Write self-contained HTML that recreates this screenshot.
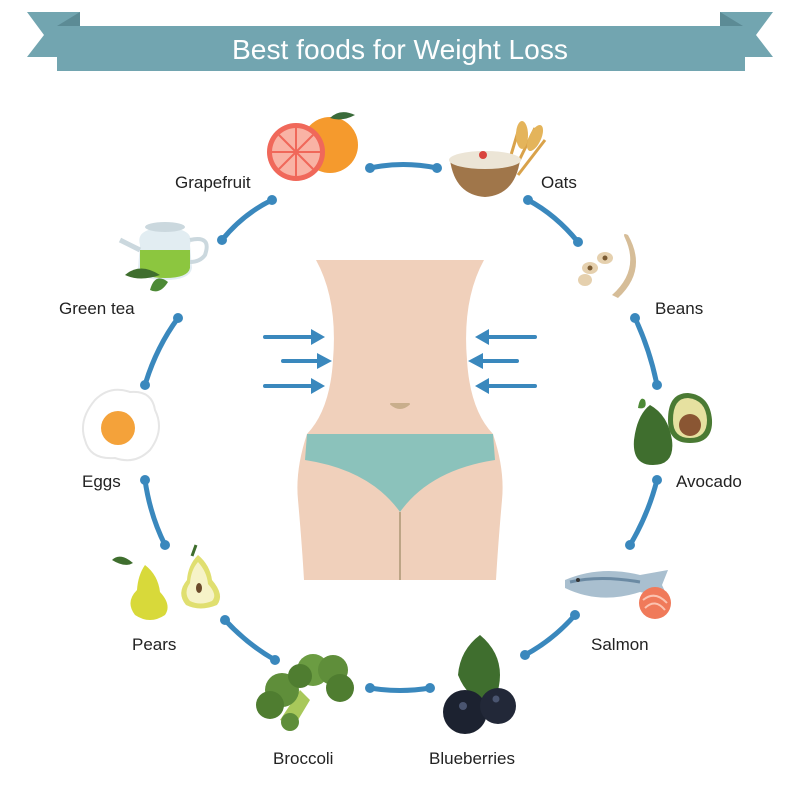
<!DOCTYPE html>
<html><head><meta charset="utf-8"><style>
html,body{margin:0;padding:0;background:#fff;}
svg{display:block}
text{font-family:"Liberation Sans",sans-serif;}
</style></head><body>
<svg width="800" height="800" viewBox="0 0 800 800" xmlns="http://www.w3.org/2000/svg">
<!-- banner -->
<polygon points="27,12 80,12 80,57 27,57 44,35" fill="#72a5b0"/>
<polygon points="773,12 720,12 720,57 773,57 756,35" fill="#72a5b0"/>
<polygon points="57,26 80,12 80,26" fill="#5c8b95"/>
<polygon points="743,26 720,12 720,26" fill="#5c8b95"/>
<rect x="57" y="26" width="688" height="45" fill="#72a5b0"/>
<text x="232" y="59" font-size="28" fill="#fff" textLength="336" lengthAdjust="spacingAndGlyphs">Best foods for Weight Loss</text>

<!-- connectors -->
<g stroke="#3a88bd" stroke-width="5" fill="none" stroke-linecap="round">
<path d="M370,168 Q403,161 437,168"/>
<path d="M272,200 Q243,214 222,240"/>
<path d="M178,318 Q156,348 145,385"/>
<path d="M145,480 Q150,515 165,545"/>
<path d="M225,620 Q247,644 275,660"/>
<path d="M370,688 Q400,693 430,688"/>
<path d="M525,655 Q553,640 575,615"/>
<path d="M630,545 Q648,515 657,480"/>
<path d="M657,385 Q650,350 635,318"/>
<path d="M578,242 Q556,215 528,200"/>
</g>
<g fill="#3a88bd">
<circle cx="370" cy="168" r="5"/><circle cx="437" cy="168" r="5"/>
<circle cx="272" cy="200" r="5"/><circle cx="222" cy="240" r="5"/>
<circle cx="178" cy="318" r="5"/><circle cx="145" cy="385" r="5"/>
<circle cx="145" cy="480" r="5"/><circle cx="165" cy="545" r="5"/>
<circle cx="225" cy="620" r="5"/><circle cx="275" cy="660" r="5"/>
<circle cx="370" cy="688" r="5"/><circle cx="430" cy="688" r="5"/>
<circle cx="525" cy="655" r="5"/><circle cx="575" cy="615" r="5"/>
<circle cx="630" cy="545" r="5"/><circle cx="657" cy="480" r="5"/>
<circle cx="657" cy="385" r="5"/><circle cx="635" cy="318" r="5"/>
<circle cx="578" cy="242" r="5"/><circle cx="528" cy="200" r="5"/>
</g>

<!-- body -->
<path d="M316,260 L484,260 Q462,300 467,360 Q470,410 493,434 Q505,470 502,500 Q498,545 496,580 L304,580 Q302,545 298,500 Q295,470 307,434 Q330,410 333,360 Q338,300 316,260 Z" fill="#f0d0bb"/>
<path d="M307,434 L493,434 L495,460 Q430,470 400,512 Q370,470 305,460 Z" fill="#8bc2bb"/>
<line x1="400" y1="512" x2="400" y2="580" stroke="#bda586" stroke-width="2"/>
<path d="M391,404 Q400,412 409,404 Z" fill="#c9ae8c" stroke="#c9ae8c" stroke-width="2" stroke-linejoin="round"/>

<!-- arrows -->
<g stroke="#3a88bd" stroke-width="4" stroke-linecap="round">
<line x1="265" y1="337" x2="315" y2="337"/><line x1="283" y1="361" x2="320" y2="361"/><line x1="265" y1="386" x2="315" y2="386"/>
<line x1="535" y1="337" x2="485" y2="337"/><line x1="517" y1="361" x2="480" y2="361"/><line x1="535" y1="386" x2="485" y2="386"/>
</g>
<g fill="#3a88bd">
<polygon points="311,329 325,337 311,345"/><polygon points="317,353 332,361 317,369"/><polygon points="311,378 325,386 311,394"/>
<polygon points="489,329 475,337 489,345"/><polygon points="483,353 468,361 483,369"/><polygon points="489,378 475,386 489,394"/>
</g>

<!-- grapefruit -->
<circle cx="330" cy="145" r="28" fill="#f59a2d"/>
<path d="M330,118 Q340,108 355,115 Q342,122 330,118Z" fill="#3a6b3a"/>
<circle cx="296" cy="152" r="29" fill="#f0685a"/>
<circle cx="296" cy="152" r="24" fill="#f9b3a5"/>
<g stroke="#f0685a" stroke-width="2"><line x1="272" y1="152" x2="320" y2="152"/><line x1="296" y1="128" x2="296" y2="176"/><line x1="279" y1="135" x2="313" y2="169"/><line x1="313" y1="135" x2="279" y2="169"/></g>

<!-- oats -->
<g stroke="#d9a24a" stroke-width="3"><line x1="505" y1="175" x2="520" y2="125"/><line x1="512" y1="175" x2="535" y2="128"/><line x1="518" y1="175" x2="545" y2="140"/></g>
<ellipse cx="522" cy="135" rx="6" ry="14" fill="#e4b45b"/><ellipse cx="535" cy="138" rx="6" ry="14" fill="#e4b45b" transform="rotate(25 535 138)"/>
<path d="M450,160 L520,160 Q515,195 485,197 Q455,195 450,160Z" fill="#a0764a"/>
<ellipse cx="485" cy="160" rx="36" ry="9" fill="#ece5d6"/>
<circle cx="483" cy="155" r="4" fill="#d9443d"/>

<!-- green tea -->
<path d="M140,245 Q135,228 165,228 Q195,228 190,245 L192,268 Q190,280 165,280 Q140,280 138,268Z" fill="#e2edf2"/>
<path d="M140,250 L190,250 L190,268 Q188,278 165,278 Q142,278 140,268Z" fill="#8cc63f"/>
<path d="M190,240 Q212,235 205,255 Q200,262 190,262" stroke="#cbd8de" stroke-width="4" fill="none"/>
<path d="M140,250 L120,240" stroke="#cbd8de" stroke-width="5"/>
<ellipse cx="165" cy="227" rx="20" ry="5" fill="#cbd8de"/>
<path d="M125,275 Q140,262 160,275 Q140,282 125,275Z" fill="#3f6e2e"/>
<path d="M150,290 Q155,272 168,282 Q160,295 150,290Z" fill="#4d8a36"/>

<!-- beans -->
<path d="M612,295 Q640,270 625,238 Q622,232 628,235 Q648,270 618,298Z" fill="#d6bd98"/>
<ellipse cx="590" cy="268" rx="8" ry="6" fill="#e5d0ae"/><ellipse cx="605" cy="258" rx="8" ry="6" fill="#e5d0ae"/><ellipse cx="585" cy="280" rx="7" ry="6" fill="#e5d0ae"/>
<circle cx="605" cy="258" r="2.5" fill="#7a5a32"/><circle cx="590" cy="268" r="2.5" fill="#7a5a32"/>

<!-- avocado -->
<path d="M650,405 Q668,415 672,440 Q675,465 653,465 Q632,465 634,440 Q637,415 650,405Z" fill="#3f6e2e"/>
<path d="M645,400 Q640,395 638,408 Q648,410 645,400Z" fill="#4d8a36"/>
<path d="M688,393 Q710,395 712,420 Q713,443 690,443 Q668,443 668,420 Q668,393 688,393Z" fill="#4a7a33"/>
<path d="M688,398 Q706,400 707,420 Q707,438 690,438 Q673,438 673,420 Q673,398 688,398Z" fill="#e6e1a0"/>
<circle cx="690" cy="425" r="11" fill="#8a5633"/>

<!-- salmon -->
<path d="M565,580 Q600,565 640,575 L668,570 L662,585 L668,598 L640,592 Q600,605 565,588Z" fill="#a9bfcf"/>
<path d="M570,582 Q600,575 640,582" stroke="#6b8aa3" stroke-width="3" fill="none"/>
<circle cx="578" cy="580" r="2" fill="#333"/>
<circle cx="655" cy="603" r="16" fill="#f07a5a"/>
<path d="M643,600 Q655,590 667,603 M645,608 Q655,598 665,610" stroke="#fbc3b0" stroke-width="2" fill="none"/>

<!-- blueberries -->
<path d="M480,635 Q510,660 495,700 Q470,705 458,675 Q460,650 480,635Z" fill="#3f6e2e"/>
<circle cx="465" cy="712" r="22" fill="#1c2230"/>
<circle cx="498" cy="706" r="18" fill="#222838"/>
<circle cx="463" cy="706" r="4" fill="#4a5570"/><circle cx="496" cy="699" r="3.5" fill="#4a5570"/>

<!-- broccoli -->
<path d="M300,690 L280,720 L295,725 L310,700 Z" fill="#a8c85a"/>
<circle cx="282" cy="690" r="17" fill="#5f8e3a"/><circle cx="270" cy="705" r="14" fill="#4f7d30"/>
<circle cx="313" cy="670" r="16" fill="#6b9c42"/><circle cx="333" cy="670" r="15" fill="#5f8e3a"/>
<circle cx="340" cy="688" r="14" fill="#4f7d30"/><circle cx="300" cy="676" r="12" fill="#4f7d30"/>
<circle cx="290" cy="722" r="9" fill="#5f8e3a"/>

<!-- pears -->
<path d="M145,565 Q158,575 160,592 Q172,605 165,615 Q150,625 135,615 Q125,602 137,590 Q138,575 145,565Z" fill="#d8d93a"/>
<path d="M133,563 Q120,552 112,560 Q125,568 133,563Z" fill="#3f6e2e"/>
<path d="M198,555 Q210,565 212,580 Q225,595 217,605 Q200,612 186,605 Q176,593 187,580 Q188,565 198,555Z" fill="#e0df70"/>
<path d="M198,562 Q207,572 208,584 Q218,595 212,601 Q200,606 190,601 Q183,593 190,583 Q191,570 198,562Z" fill="#f6f3c8"/>
<ellipse cx="199" cy="588" rx="3" ry="5" fill="#6b4a2a"/>
<line x1="192" y1="556" x2="196" y2="545" stroke="#3f6e2e" stroke-width="3"/>

<!-- egg -->
<path d="M95,400 Q110,385 130,392 Q152,390 155,410 Q165,430 150,450 Q135,465 115,458 Q90,460 85,440 Q78,420 95,400Z" fill="#fff" stroke="#e6e6e6" stroke-width="2"/>
<circle cx="118" cy="428" r="17" fill="#f4a23a"/>

<!-- labels -->
<g font-size="17" fill="#222">
<text x="175" y="188">Grapefruit</text>
<text x="541" y="188">Oats</text>
<text x="59" y="314">Green tea</text>
<text x="655" y="314">Beans</text>
<text x="82" y="487">Eggs</text>
<text x="676" y="487">Avocado</text>
<text x="132" y="650">Pears</text>
<text x="591" y="650">Salmon</text>
<text x="273" y="764">Broccoli</text>
<text x="429" y="764">Blueberries</text>
</g>
</svg>
</body></html>
